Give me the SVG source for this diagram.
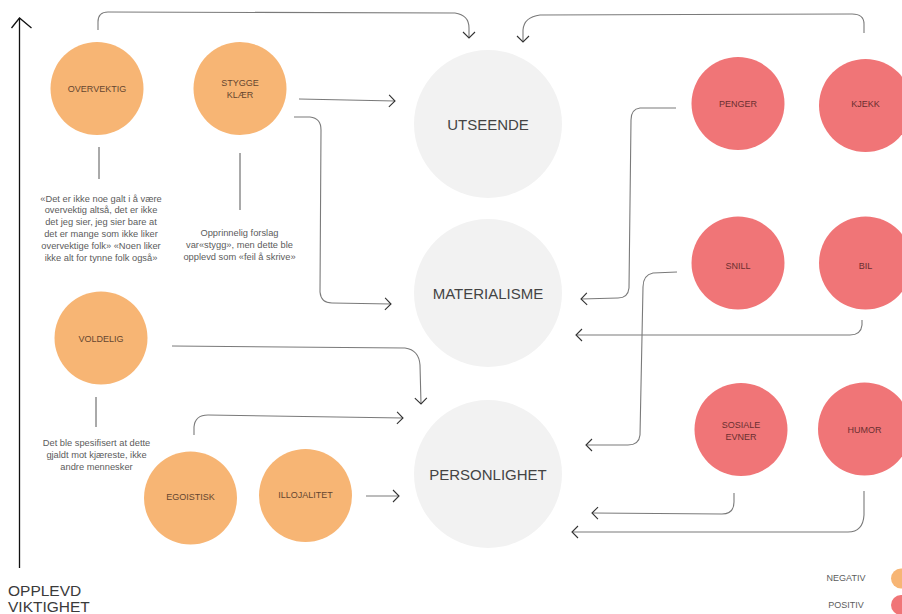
<svg xmlns="http://www.w3.org/2000/svg" width="902" height="614" viewBox="0 0 902 614">
  <defs>
    <marker id="chev" viewBox="-1 -7 9 14" markerWidth="9" markerHeight="14" refX="6" refY="0" orient="auto" markerUnits="userSpaceOnUse">
      <path d="M0,-6 L6,0 L0,6" fill="none" stroke="#333" stroke-width="1.1"/>
    </marker>
    <marker id="axisHead" viewBox="-12 -2 24 14" markerWidth="24" markerHeight="14" refX="0" refY="0" orient="0" markerUnits="userSpaceOnUse">
      <path d="M-8,10 L0,0 L12,10" fill="none" stroke="#111" stroke-width="1.3"/>
    </marker>
  </defs>
  <style>
    .neg { fill: #F7B574; }
    .pos { fill: #F07577; }
    .hub { fill: #F2F2F2; }
    .lbl { font-family: "Liberation Sans", Arial, sans-serif; font-size: 9px; text-anchor: middle; }
    .neg-t { fill: #654630; }
    .pos-t { fill: #6a2f30; }
    .hub-t { font-family: "Liberation Sans", Arial, sans-serif; font-size: 15px; text-anchor: middle; fill: #444; }
    .note { font-family: "Liberation Sans", Arial, sans-serif; font-size: 9.3px; text-anchor: middle; fill: #5c5c5c; }
    .conn { fill: none; stroke: #7a7a7a; stroke-width: 1.1; }
    .arr { marker-end: url(#chev); }
    .tick { stroke: #555; stroke-width: 1; }
    .axis-t { font-family: "Liberation Sans", Arial, sans-serif; font-size: 15.5px; fill: #3a3a3a; }
    .legend-t { font-family: "Liberation Sans", Arial, sans-serif; font-size: 9px; text-anchor: middle; fill: #5c5c5c; }
  </style>

  <rect width="902" height="614" fill="#ffffff"/>

  <!-- importance axis -->
  <g id="axis">
    <line x1="19.5" y1="568" x2="19.5" y2="18" stroke="#111" stroke-width="1.3" marker-end="url(#axisHead)"/>
    <text class="axis-t" x="8" y="596">OPPLEVD</text>
    <text class="axis-t" x="8" y="611.5">VIKTIGHET</text>
  </g>

  <!-- connectors -->
  <g id="connectors">
    <path class="conn arr" d="M98,30 L98,22 Q98,12 108,12 L455,13 Q469,15 469,28 L469,38"/>
    <path class="conn arr" d="M864,33 L864,24 Q864,14 852,14 L540,15 Q524,17 523,30 L523,42"/>
    <path class="conn arr" d="M299,99 L395,101"/>
    <path class="conn arr" d="M294,117 L310,117 Q321,118 321,130 L320,292 Q321,303 332,303 L391,304"/>
    <path class="conn arr" d="M172,346 L405,348 Q419,350 420,365 L421,404"/>
    <path class="conn arr" d="M194,435 L194,427 Q195,415 208,415 L403,418"/>
    <path class="conn arr" d="M366,496 L399,496"/>
    <path class="conn arr" d="M676,108 L640,108 Q631,109 631,120 L629,288 Q628,298 618,298 L581,299"/>
    <path class="conn arr" d="M862,320 L862,325 Q861,335 850,335 L576,335"/>
    <path class="conn arr" d="M677,272 L653,273 Q643,275 643,287 L640,435 Q639,445 628,445 L586,445"/>
    <path class="conn arr" d="M734,493 L734,502 Q734,514 722,514 L592,513"/>
    <path class="conn arr" d="M864,491 L864,515 Q863,532 848,532 L572,532"/>
    <!-- note ticks -->
    <line class="tick" x1="99" y1="147" x2="99" y2="179"/>
    <line class="tick" x1="240" y1="153" x2="240" y2="210"/>
    <line class="tick" x1="96" y1="397" x2="96" y2="427"/>
  </g>

  <!-- categories -->
  <g id="utseende">
    <circle class="hub" cx="488" cy="124" r="74"/>
    <text class="hub-t" x="488" y="130">UTSEENDE</text>
  </g>
  <g id="materialisme">
    <circle class="hub" cx="488" cy="293" r="74"/>
    <text class="hub-t" x="488" y="299">MATERIALISME</text>
  </g>
  <g id="personlighet">
    <circle class="hub" cx="488" cy="474" r="74"/>
    <text class="hub-t" x="488" y="480">PERSONLIGHET</text>
  </g>

  <!-- negative traits -->
  <g id="overvektig">
    <circle class="neg" cx="97" cy="88.5" r="46.5"/>
    <text class="lbl neg-t" x="97" y="92">OVERVEKTIG</text>
  </g>
  <g id="stygge-klaer">
    <circle class="neg" cx="240" cy="88.5" r="46.5"/>
    <text class="lbl neg-t" x="240" y="86">STYGGE</text>
    <text class="lbl neg-t" x="240" y="97.5">KLÆR</text>
  </g>
  <g id="voldelig">
    <circle class="neg" cx="101" cy="338" r="46.5"/>
    <text class="lbl neg-t" x="101" y="342">VOLDELIG</text>
  </g>
  <g id="egoistisk">
    <circle class="neg" cx="190.5" cy="498" r="46.5"/>
    <text class="lbl neg-t" x="190.5" y="500">EGOISTISK</text>
  </g>
  <g id="illojalitet">
    <circle class="neg" cx="305.5" cy="495.5" r="46.5"/>
    <text class="lbl neg-t" x="305.5" y="498">ILLOJALITET</text>
  </g>

  <!-- positive traits -->
  <g id="penger">
    <circle class="pos" cx="738" cy="103.5" r="46.5"/>
    <text class="lbl pos-t" x="738" y="107">PENGER</text>
  </g>
  <g id="kjekk">
    <circle class="pos" cx="865.5" cy="105.5" r="46.5"/>
    <text class="lbl pos-t" x="865.5" y="107">KJEKK</text>
  </g>
  <g id="snill">
    <circle class="pos" cx="738" cy="263" r="46.5"/>
    <text class="lbl pos-t" x="738" y="269">SNILL</text>
  </g>
  <g id="bil">
    <circle class="pos" cx="865.5" cy="263" r="46.5"/>
    <text class="lbl pos-t" x="865.5" y="269">BIL</text>
  </g>
  <g id="sosiale-evner">
    <circle class="pos" cx="741" cy="429.5" r="46.5"/>
    <text class="lbl pos-t" x="741" y="428">SOSIALE</text>
    <text class="lbl pos-t" x="741" y="439.5">EVNER</text>
  </g>
  <g id="humor">
    <circle class="pos" cx="864.5" cy="429" r="46.5"/>
    <text class="lbl pos-t" x="864.5" y="433">HUMOR</text>
  </g>

  <!-- notes -->
  <g id="note-overvektig">
    <text class="note" x="101" y="201.5">«Det er ikke noe galt i å være</text>
    <text class="note" x="101" y="213.3">overvektig altså, det er ikke</text>
    <text class="note" x="101" y="225">det jeg sier, jeg sier bare at</text>
    <text class="note" x="101" y="237">det er mange som ikke liker</text>
    <text class="note" x="101" y="249">overvektige folk» «Noen liker</text>
    <text class="note" x="101" y="260.5">ikke alt for tynne folk også»</text>
  </g>
  <g id="note-stygge">
    <text class="note" x="239.5" y="236">Opprinnelig forslag</text>
    <text class="note" x="239.5" y="248">var«stygg», men dette ble</text>
    <text class="note" x="239.5" y="260">opplevd som «feil å skrive»</text>
  </g>
  <g id="note-voldelig">
    <text class="note" x="96.5" y="445.5">Det ble spesifisert at dette</text>
    <text class="note" x="96.5" y="457.5">gjaldt mot kjæreste, ikke</text>
    <text class="note" x="96.5" y="469.5">andre mennesker</text>
  </g>

  <!-- legend -->
  <g id="legend">
    <text class="legend-t" x="846" y="581">NEGATIV</text>
    <circle class="neg" cx="901" cy="578.5" r="10"/>
    <text class="legend-t" x="846" y="608">POSITIV</text>
    <circle class="pos" cx="901" cy="605" r="10"/>
  </g>
</svg>
